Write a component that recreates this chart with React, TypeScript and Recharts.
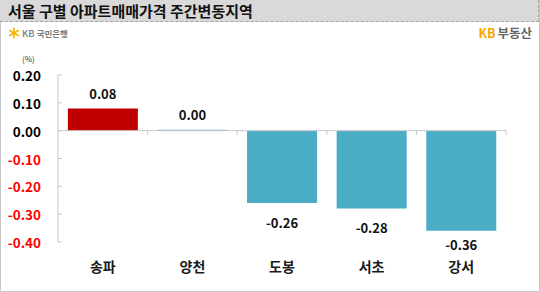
import React from 'react';
import { BarChart, Bar, XAxis, YAxis, ReferenceLine, LabelList, Cell } from 'recharts';

const categories = ['송파', '양천', '도봉', '서초', '강서'];
const changes = [0.08, 0.0, -0.26, -0.28, -0.36];
const yTicks = [0.2, 0.1, 0, -0.1, -0.2, -0.3, -0.4];
const title = '서울 구별 아파트매매가격 주간변동지역';
const unitLabel = '(%)';

const data = categories.map((name, i) => ({ name, value: changes[i] }));

const FONT = '"Noto Sans CJK KR", "Noto Sans", sans-serif';
const AXIS = '#c8c8c8';

const YTick = (props: any) => {
  const { x, y, payload } = props;
  const v = Number(payload.value);
  return (
    <g>
      <line x1={x} x2={x + 4} y1={y} y2={y} stroke={AXIS} />
      <text x={x - 17} y={y} textAnchor="end" dominantBaseline="central" fontSize={13.5} fontWeight={700}
        fill={v < 0 ? '#ff0000' : '#000'} fontFamily={FONT}>{v.toFixed(2)}</text>
    </g>
  );
};

const XTick = (props: any) => {
  const { x, y, payload } = props;
  return (
    <text x={x} y={y + 24} textAnchor="middle" dominantBaseline="central" fontSize={14} fontWeight={700}
      fill="#1a1a1a" fontFamily={FONT}>{payload.value}</text>
  );
};

const ValueLabel = (props: any) => {
  const { x, y, width, height, value } = props;
  const v = Number(value);
  const top = Math.min(y, y + height);
  const bottom = Math.max(y, y + height);
  const cy = v < 0 ? Math.min(bottom + 19, 244) : top - 15;
  return (
    <text x={x + width / 2} y={cy} textAnchor="middle" dominantBaseline="central" fontSize={13} fontWeight={700}
      fill="#111" fontFamily={FONT}>{v.toFixed(2)}</text>
  );
};

export default function App() {
  return (
    <div style={{ position: 'absolute', left: 0, top: 0, width: 540, height: 292, background: '#fff', fontFamily: FONT, overflow: 'hidden' }}>
      <div style={{ position: 'absolute', left: 0, top: 0, width: 538, height: 290, border: '1px solid #c8c8c8' }} />
      <div style={{ position: 'absolute', left: 0, top: 0, width: 538, height: 21, background: '#d9d9d9', borderBottom: '1px dashed #a6a6a6', borderRight: '1px dashed #a6a6a6' }} />
      <div style={{ position: 'absolute', left: 8, top: 0, height: 21, lineHeight: '21px', fontSize: 15, fontWeight: 700, color: '#111', whiteSpace: 'nowrap' }}>{title}</div>
      <div style={{ position: 'absolute', left: 8, top: 27, height: 12, display: 'flex', alignItems: 'center', whiteSpace: 'nowrap' }}>
        <svg width={12} height={12} viewBox="0 0 12 12">
          <g stroke="#f5b400" strokeWidth={1.6} strokeLinecap="round">
            <line x1={6} y1={1} x2={6} y2={11} />
            <line x1={1.7} y1={3.5} x2={10.3} y2={8.5} />
            <line x1={1.7} y1={8.5} x2={10.3} y2={3.5} />
          </g>
        </svg>
        <span style={{ fontSize: 9.5, color: '#7a7a7a', marginLeft: 2, fontWeight: 500 }}>KB</span>
        <span style={{ fontSize: 8.5, color: '#7a7a7a', marginLeft: 2, fontWeight: 700 }}>국민은행</span>
      </div>
      <div style={{ position: 'absolute', right: 8, top: 25, height: 16, lineHeight: '16px', fontSize: 12.5, fontWeight: 700, whiteSpace: 'nowrap' }}>
        <span style={{ color: '#f5a800' }}>KB</span>
        <span style={{ color: '#666', marginLeft: 2 }}>부동산</span>
      </div>
      <div style={{ position: 'absolute', left: 22, top: 53, fontSize: 8, color: '#333', lineHeight: '12px' }}>{unitLabel}</div>
      <div style={{ position: 'absolute', left: 0, top: 0 }}>
        <BarChart width={540} height={292} data={data} margin={{ top: 75, right: 34, bottom: 20, left: 0 }} barCategoryGap="11%">
          <XAxis dataKey="name" axisLine={false} tickLine={false} tickSize={0} tickMargin={0} height={30} tick={<XTick />} interval={0} />
          <YAxis domain={[-0.4, 0.2]} ticks={yTicks} width={58} axisLine={{ stroke: AXIS }} tickLine={false} tickSize={0} tickMargin={0}
            tick={<YTick />} interval={0} allowDecimals />
          <Bar dataKey="value" isAnimationActive={false} minPointSize={1}>
            {data.map((d, i) => (
              <Cell key={i} fill={d.value > 0 ? '#c00000' : '#4bacc6'} />
            ))}
            <LabelList dataKey="value" content={<ValueLabel />} />
          </Bar>
          <ReferenceLine y={0} stroke={AXIS} />
          {categories.map((c) => (
            <ReferenceLine key={c} segment={[{ x: c, y: 0 }, { x: c, y: -0.015 }]} position="end" stroke={AXIS} />
          ))}
        </BarChart>
      </div>
    </div>
  );
}
